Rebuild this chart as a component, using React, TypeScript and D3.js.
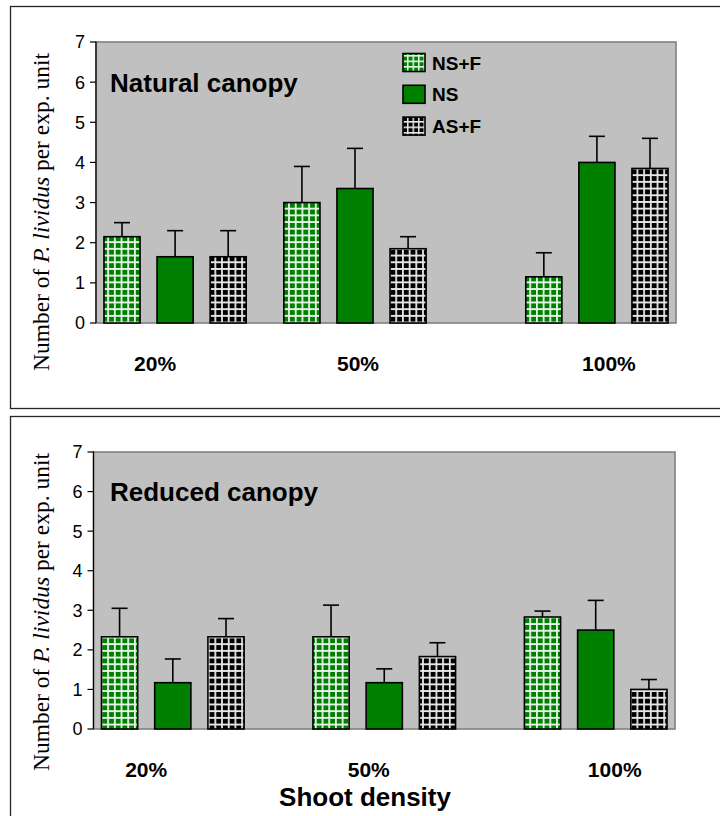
import React from "react";
import * as d3 from "d3";

// Shoot-density groups and the three treatments plotted in each group
const densities = ["20%", "50%", "100%"];
const treatments = ["NS+F", "NS", "AS+F"];

// Mean number of P. lividus per experimental unit (rows: density, cols: treatment)
const naturalMeans = [
  [2.15, 1.65, 1.65],
  [3.0, 3.35, 1.85],
  [1.15, 4.0, 3.85],
];
const naturalErrors = [
  [0.35, 0.65, 0.65],
  [0.9, 1.0, 0.3],
  [0.6, 0.65, 0.75],
];
const reducedMeans = [
  [2.33, 1.17, 2.33],
  [2.33, 1.17, 1.83],
  [2.83, 2.5, 1.0],
];
const reducedErrors = [
  [0.72, 0.6, 0.46],
  [0.8, 0.35, 0.35],
  [0.15, 0.75, 0.25],
];
const yTicks = [0, 1, 2, 3, 4, 5, 6, 7];

const SANS = "Arial, 'Liberation Sans', sans-serif";
const SERIF = "'Times New Roman', 'Liberation Serif', serif";

const fills: Record<string, string> = {
  "NS+F": "url(#gridGreen)",
  NS: "#008000",
  "AS+F": "url(#gridBlack)",
};
const legendFills: Record<string, string> = {
  "NS+F": "url(#gridGreenSmall)",
  NS: "#008000",
  "AS+F": "url(#gridBlackSmall)",
};

type Panel = {
  key: string;
  title: string;
  means: number[][];
  errors: number[][];
  box: { top: number; bottom: number };
  plot: { left: number; right: number; top: number; bottom: number };
  groupShift: number[];
  labelShift: number[];
  titleY: number;
  xLabelY: number;
  yLabelCenter: number;
  legend: boolean;
};

const panels: Panel[] = [
  {
    key: "natural",
    title: "Natural canopy",
    means: naturalMeans,
    errors: naturalErrors,
    box: { top: 6, bottom: 408 },
    plot: { left: 96, right: 676, top: 42, bottom: 323 },
    groupShift: [0, -31, 0],
    labelShift: [-20, -28, 12],
    titleY: 92,
    xLabelY: 371,
    yLabelCenter: 212,
    legend: true,
  },
  {
    key: "reduced",
    title: "Reduced canopy",
    means: reducedMeans,
    errors: reducedErrors,
    box: { top: 416, bottom: 830 },
    plot: { left: 93.5, right: 675, top: 452, bottom: 729 },
    groupShift: [0, 0, 0],
    labelShift: [-26.6, -15.5, 19],
    titleY: 501,
    xLabelY: 777,
    yLabelCenter: 612,
    legend: false,
  },
];

function GridPattern({ id, size, bg, line }: { id: string; size: number; bg: string; line: number }) {
  const h = line / 2;
  return (
    <pattern id={id} patternUnits="userSpaceOnUse" width={size} height={size}>
      <rect width={size} height={size} fill={bg} />
      <path
        d={`M0 ${h}H${size}M${h} 0V${size}`}
        stroke="#ffffff"
        strokeOpacity={0.9}
        strokeWidth={line}
      />
    </pattern>
  );
}

function PanelChart({ p }: { p: Panel }) {
  const { plot } = p;
  const y = d3.scaleLinear().domain([0, 7]).range([plot.bottom, plot.top]);
  const x0 = d3
    .scaleBand<string>()
    .domain(densities)
    .range([plot.left, plot.right])
    .paddingInner(0.25)
    .paddingOuter(0);
  const x1 = d3
    .scaleBand<string>()
    .domain(treatments)
    .range([0, x0.bandwidth()])
    .paddingInner(0.32)
    .paddingOuter(0.15);

  return (
    <g>
      {/* frame around the panel */}
      <rect
        x={10.5}
        y={p.box.top + 0.5}
        width={730}
        height={p.box.bottom - p.box.top}
        fill="none"
        stroke="#262626"
        strokeWidth={1.3}
      />
      {/* plot area */}
      <rect
        x={plot.left}
        y={plot.top}
        width={plot.right - plot.left}
        height={plot.bottom - plot.top}
        fill="#c0c0c0"
        stroke="#808080"
        strokeWidth={1.6}
      />
      {/* y axis */}
      <line x1={plot.left} x2={plot.left} y1={plot.top - 0.5} y2={plot.bottom} stroke="#000" strokeWidth={1.2} />
      {yTicks.map((t) => (
        <g key={t}>
          <line x1={plot.left - 6} x2={plot.left} y1={y(t)} y2={y(t)} stroke="#000" strokeWidth={1.2} />
          <text
            x={plot.left - 11}
            y={y(t)}
            dy="0.36em"
            textAnchor="end"
            fontFamily={SANS}
            fontSize={18}
            fill="#000"
          >
            {t}
          </text>
        </g>
      ))}
      <text
        transform={`translate(49, ${p.yLabelCenter}) rotate(-90)`}
        textAnchor="middle"
        fontFamily={SERIF}
        fontSize={23.5}
        fill="#000"
      >
        <tspan>Number of </tspan>
        <tspan fontStyle="italic">P. lividus</tspan>
        <tspan> per exp. unit</tspan>
      </text>

      {/* bars with upward error bars */}
      {densities.map((d, gi) => {
        const gx = (x0(d) ?? 0) + p.groupShift[gi];
        return (
          <g key={d}>
            {treatments.map((t, ti) => {
              const v = p.means[gi][ti];
              const e = p.errors[gi][ti];
              const bx = gx + (x1(t) ?? 0);
              const bw = x1.bandwidth();
              const cx = bx + bw / 2;
              return (
                <g key={t}>
                  <line x1={cx} x2={cx} y1={y(v)} y2={y(v + e)} stroke="#000" strokeWidth={1.6} />
                  <line x1={cx - 8} x2={cx + 8} y1={y(v + e)} y2={y(v + e)} stroke="#000" strokeWidth={1.6} />
                  <rect
                    x={bx}
                    y={y(v)}
                    width={bw}
                    height={y(0) - y(v)}
                    fill={fills[t]}
                    stroke="#000"
                    strokeWidth={1.6}
                  />
                </g>
              );
            })}
            <text
              x={(x0(d) ?? 0) + x0.bandwidth() / 2 + p.labelShift[gi]}
              y={p.xLabelY}
              textAnchor="middle"
              fontFamily={SANS}
              fontWeight="bold"
              fontSize={21}
              fill="#000"
            >
              {d}
            </text>
          </g>
        );
      })}

      <text x={110} y={p.titleY} fontFamily={SANS} fontWeight="bold" fontSize={26} fill="#000">
        {p.title}
      </text>

      {p.legend &&
        treatments.map((t, i) => {
          const cy = 62.5 + i * 31.8;
          return (
            <g key={t}>
              <rect x={403} y={cy - 9} width={22} height={18} fill={legendFills[t]} stroke="#000" strokeWidth={1.6} />
              <text x={432} y={cy + 7} fontFamily={SANS} fontWeight="bold" fontSize={19} fill="#000">
                {t}
              </text>
            </g>
          );
        })}
    </g>
  );
}

export default function App() {
  return (
    <svg
      width={720}
      height={816}
      viewBox="0 0 720 816"
      style={{ position: "absolute", left: 0, top: 0, display: "block", background: "#fff" }}
    >
      <defs>
        <GridPattern id="gridGreen" size={6.7} bg="#008000" line={1.8} />
        <GridPattern id="gridBlack" size={6.7} bg="#000000" line={1.8} />
        <GridPattern id="gridGreenSmall" size={5.5} bg="#008000" line={1.5} />
        <GridPattern id="gridBlackSmall" size={5.5} bg="#000000" line={1.5} />
      </defs>
      {panels.map((p) => (
        <PanelChart key={p.key} p={p} />
      ))}
      <text x={365} y={806} textAnchor="middle" fontFamily={SANS} fontWeight="bold" fontSize={26} fill="#000">
        Shoot density
      </text>
    </svg>
  );
}
